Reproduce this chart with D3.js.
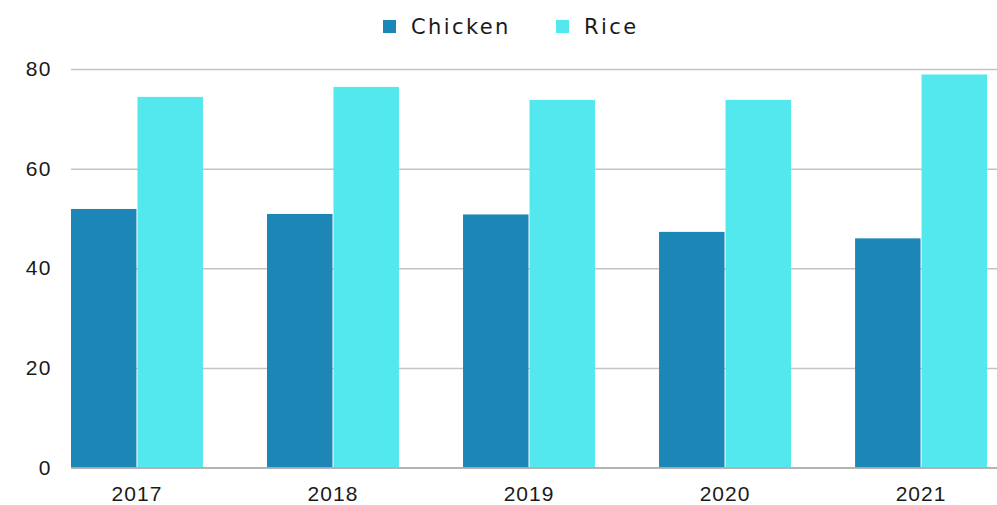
<!DOCTYPE html>
<html>
<head>
<meta charset="utf-8">
<script src="https://cdn.jsdelivr.net/npm/d3@7"></script>
<style>
  body { margin: 0; background: #fff; }
  svg { display: block; font-family: "DejaVu Sans", sans-serif; }
</style>
</head>
<body>
<svg id="chart" width="997" height="505"></svg>
<script>
const years = ["2017", "2018", "2019", "2020", "2021"];
const seriesNames = ["Chicken", "Rice"];
const chickenValues = [51.9, 50.9, 50.8, 47.3, 46];
const riceValues = [74.4, 76.4, 73.8, 73.8, 78.9];
const yTicks = [0, 20, 40, 60, 80];
const colors = ["#1c86b7", "#53e8ee"];

const svg = d3.select("#chart");
const margin = { top: 69, right: 10, bottom: 37, left: 71 };
const width = 997 - margin.left - margin.right,
  height = 505 - margin.top - margin.bottom;

const data = years.map((y, i) => ({ year: y, values: [chickenValues[i], riceValues[i]] }));

const x = d3.scaleBand().domain(years).range([0, 916]).paddingInner(0.327).paddingOuter(0);
const x1 = d3.scaleBand().domain(seriesNames).range([0, x.bandwidth()]).paddingInner(0.015);
const y = d3.scaleLinear().domain([0, 80]).range([height - 0.5, 0]);

const g = svg.append("g").attr("transform", "translate(" + margin.left + "," + margin.top + ")");

// grid
g.append("g")
  .attr("class", "grid")
  .call(d3.axisLeft(y).tickValues(yTicks).tickSize(-(width + 10)).tickFormat(""))
  .call((s) => s.select(".domain").remove())
  .selectAll("line")
  .attr("stroke", "#c4c4c4")
  .attr("stroke-width", 1.5);

// y labels
g.append("g")
  .call(d3.axisLeft(y).tickValues(yTicks).tickSize(0).tickPadding(19))
  .call((s) => s.select(".domain").remove())
  .selectAll("text")
  .attr("font-size", 21)
  .attr("letter-spacing", 1.5)
  .attr("fill", "#1a1a1a");

// bars
const groups = g.selectAll(".grp")
  .data(data)
  .enter()
  .append("g")
  .attr("transform", (d) => "translate(" + x(d.year) + ",0)");

groups.selectAll("rect")
  .data((d) => d.values.map((v, i) => ({ key: seriesNames[i], v: v, i: i })))
  .enter()
  .append("rect")
  .attr("x", (d) => x1(d.key))
  .attr("width", x1.bandwidth())
  .attr("y", (d) => y(d.v))
  .attr("height", (d) => y(0) - y(d.v))
  .attr("fill", (d) => colors[d.i]);

// baseline
g.append("line")
  .attr("x1", 0).attr("x2", width + 10)
  .attr("y1", y(0) + 0.5).attr("y2", y(0) + 0.5)
  .attr("stroke", "#aaa").attr("stroke-width", 1.5);

// x labels
g.append("g")
  .attr("transform", "translate(0," + height + ")")
  .call(d3.axisBottom(x).tickSize(0).tickPadding(18))
  .call((s) => s.select(".domain").remove())
  .selectAll("text")
  .attr("font-size", 21)
  .attr("letter-spacing", 1)
  .attr("fill", "#1a1a1a");

// legend
const legendX = [383, 556];
const legend = svg.append("g");
seriesNames.forEach((name, i) => {
  legend.append("rect")
    .attr("x", legendX[i]).attr("y", 20).attr("width", 13).attr("height", 13)
    .attr("fill", colors[i]);
  legend.append("text")
    .attr("x", legendX[i] + 28).attr("y", 34)
    .attr("font-size", 21)
    .attr("letter-spacing", 2.4)
    .attr("fill", "#1a1a1a")
    .text(name);
});
</script>
</body>
</html>
